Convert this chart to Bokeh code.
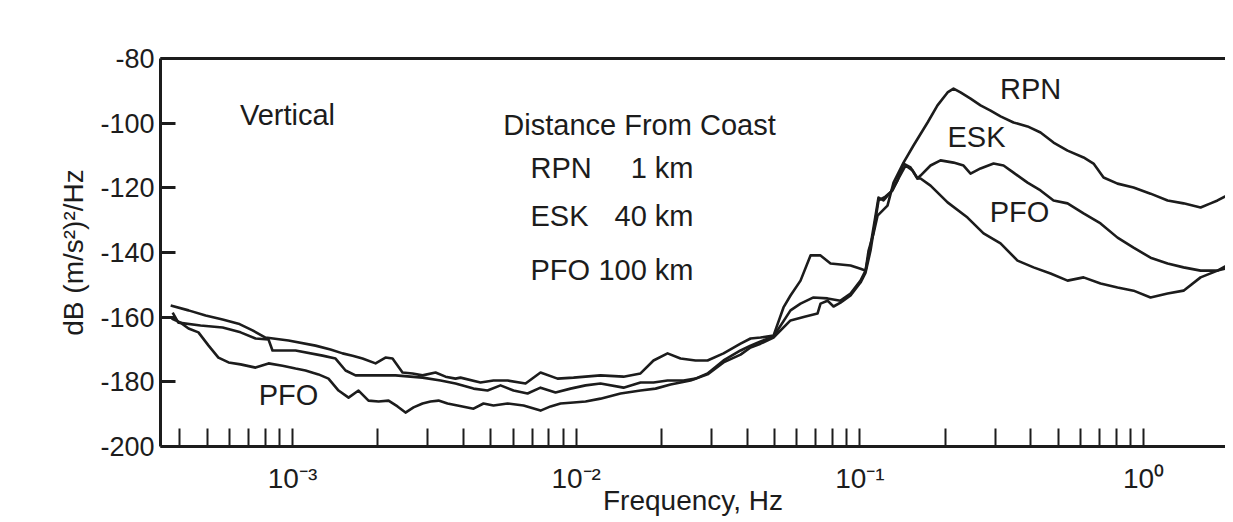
from bokeh.plotting import figure
from bokeh.models import FixedTicker, LogAxis, Label, Range1d
from bokeh.embed import file_html
from bokeh.resources import INLINE

# ---- data ----
RPN_FREQ = [3.72e-4, 4.30e-4, 4.94e-4, 5.67e-4, 6.45e-4, 7.23e-4, 8.03e-4, 9.68e-4, 1.205e-3, 1.361e-3,
            1.501e-3, 1.628e-3, 1.765e-3, 1.962e-3, 2.127e-3, 2.252e-3, 2.442e-3, 2.649e-3, 2.873e-3, 3.192e-3,
            3.462e-3, 3.754e-3, 3.909e-3, 4.599e-3, 5.110e-3, 5.727e-3, 6.628e-3, 7.486e-3, 8.594e-3, 9.784e-3,
            1.218e-2, 1.468e-2, 1.685e-2, 1.873e-2, 2.099e-2, 2.332e-2, 2.634e-2, 2.904e-2, 3.306e-2, 3.796e-2,
            4.116e-2, 4.464e-2, 4.960e-2, 5.379e-2, 5.694e-2, 6.176e-2, 6.698e-2, 7.264e-2, 7.879e-2, 9.268e-2,
            1.005e-1, 1.047e-1, 1.073e-1, 1.117e-1, 1.154e-1, 1.251e-1, 1.314e-1, 1.425e-1, 1.545e-1, 1.732e-1,
            1.877e-1, 2.037e-1, 2.138e-1, 2.263e-1, 2.455e-1, 2.662e-1, 2.888e-1, 3.131e-1, 3.479e-1, 3.898e-1,
            4.332e-1, 4.814e-1, 5.395e-1, 6.142e-1, 6.661e-1, 7.225e-1, 8.093e-1, 9.215e-1, 1.058, 1.215,
            1.383, 1.588, 1.722, 1.822, 2.025]
RPN_DB = [-156.4, -157.9, -159.5, -160.7, -162.0, -164.1, -166.3, -167.2, -168.8, -170.0,
          -171.2, -171.9, -172.8, -174.3, -172.5, -172.8, -177.1, -177.4, -178.0, -177.1,
          -178.4, -179.0, -178.7, -180.2, -179.6, -179.6, -180.5, -177.1, -179.0, -178.7,
          -178.0, -178.4, -177.4, -173.4, -171.2, -172.8, -173.4, -173.4, -171.2, -168.2,
          -166.6, -166.3, -165.7, -157.0, -153.3, -148.7, -140.9, -140.9, -143.4, -144.0,
          -145.0, -145.6, -139.4, -134.1, -128.6, -125.5, -118.4, -112.2, -106.9, -99.8,
          -94.5, -90.5, -89.3, -90.5, -92.4, -94.5, -96.1, -97.9, -99.8, -101.0,
          -102.9, -106.0, -108.5, -110.6, -112.5, -116.8, -118.7, -119.9, -121.8, -123.9,
          -124.8, -126.1, -124.8, -123.9, -121.8]

ESK_FREQ = [3.78e-4, 3.96e-4, 4.74e-4, 5.67e-4, 6.56e-4, 7.41e-4, 8.23e-4, 8.50e-4, 1.025e-3, 1.276e-3,
            1.418e-3, 1.538e-3, 1.668e-3, 1.962e-3, 2.307e-3, 2.873e-3, 3.325e-3, 3.754e-3, 4.345e-3, 4.868e-3,
            5.410e-3, 6.012e-3, 6.737e-3, 7.486e-3, 8.456e-3, 9.550e-3, 1.079e-2, 1.218e-2, 1.468e-2, 1.685e-2,
            1.873e-2, 2.099e-2, 2.389e-2, 2.634e-2, 2.904e-2, 3.306e-2, 3.796e-2, 4.116e-2, 4.464e-2, 4.960e-2,
            5.694e-2, 6.176e-2, 6.863e-2, 7.689e-2, 8.544e-2, 9.268e-2, 1.005e-1, 1.047e-1, 1.090e-1, 1.135e-1,
            1.163e-1, 1.211e-1, 1.282e-1, 1.357e-1, 1.425e-1, 1.508e-1, 1.596e-1, 1.636e-1, 1.774e-1, 1.924e-1,
            2.138e-1, 2.319e-1, 2.455e-1, 2.662e-1, 2.959e-1, 3.209e-1, 3.479e-1, 3.898e-1, 4.332e-1, 4.814e-1,
            5.395e-1, 6.142e-1, 7.051e-1, 8.093e-1, 9.215e-1, 1.058, 1.215, 1.383, 1.588, 1.822, 2.025]
ESK_DB = [-158.6, -161.7, -162.6, -163.2, -164.7, -166.6, -166.9, -170.3, -170.3, -171.9,
          -172.8, -176.5, -178.0, -178.0, -178.0, -178.7, -179.6, -180.5, -182.1, -182.7,
          -181.1, -182.7, -183.6, -181.8, -183.3, -182.1, -181.1, -180.5, -181.8, -180.2,
          -180.2, -179.6, -179.6, -179.0, -177.4, -173.4, -170.3, -168.8, -167.5, -166.0,
          -157.9, -155.8, -153.9, -154.2, -154.9, -152.7, -148.7, -145.6, -137.8, -128.6,
          -123.0, -123.9, -121.4, -117.7, -112.5, -113.7, -117.1, -116.2, -113.1, -111.5,
          -112.2, -113.1, -115.6, -114.0, -112.5, -113.1, -115.3, -118.4, -120.8, -123.9,
          -124.8, -127.9, -131.0, -135.4, -138.5, -141.6, -143.4, -144.6, -145.6, -145.6, -143.4]

PFO_FREQ = [3.75e-4, 4.03e-4, 4.30e-4, 4.66e-4, 5.06e-4, 5.48e-4, 5.95e-4, 6.56e-4, 7.41e-4, 8.23e-4,
            9.22e-4, 1.025e-3, 1.111e-3, 1.235e-3, 1.339e-3, 1.453e-3, 1.576e-3, 1.709e-3, 1.853e-3, 2.011e-3,
            2.180e-3, 2.345e-3, 2.502e-3, 2.670e-3, 2.873e-3, 3.065e-3, 3.271e-3, 3.519e-3, 3.815e-3, 4.345e-3,
            4.712e-3, 5.110e-3, 5.727e-3, 6.521e-3, 7.486e-3, 8.121e-3, 8.806e-3, 9.784e-3, 1.079e-2, 1.218e-2,
            1.433e-2, 1.685e-2, 1.904e-2, 2.151e-2, 2.529e-2, 2.904e-2, 3.306e-2, 3.796e-2, 4.116e-2, 4.464e-2,
            4.960e-2, 5.694e-2, 6.431e-2, 7.089e-2, 7.264e-2, 7.689e-2, 8.072e-2, 8.544e-2, 9.268e-2, 1.005e-1,
            1.047e-1, 1.090e-1, 1.126e-1, 1.163e-1, 1.231e-1, 1.303e-1, 1.368e-1, 1.448e-1, 1.533e-1, 1.596e-1,
            1.636e-1, 1.774e-1, 2.037e-1, 2.395e-1, 2.728e-1, 3.131e-1, 3.594e-1, 4.093e-1, 4.699e-1, 5.395e-1,
            6.142e-1, 7.051e-1, 8.093e-1, 9.215e-1, 1.058, 1.215, 1.383, 1.588, 1.822, 2.025]
PFO_DB = [-160.4, -161.7, -163.5, -164.7, -168.8, -172.5, -174.0, -174.6, -175.6, -174.3,
          -175.0, -175.9, -176.5, -177.7, -179.0, -182.7, -184.9, -182.7, -185.8, -186.1,
          -185.8, -187.6, -189.5, -187.9, -186.7, -186.1, -185.8, -186.7, -187.3, -188.3,
          -186.7, -187.3, -186.7, -187.3, -188.9, -187.6, -186.7, -186.4, -186.1, -185.2,
          -183.6, -182.7, -182.1, -180.8, -179.6, -177.7, -174.0, -171.6, -169.4, -168.2,
          -166.3, -161.0, -159.8, -158.9, -155.8, -154.9, -156.7, -155.5, -153.3, -149.3,
          -146.2, -139.4, -131.7, -123.9, -122.7, -120.8, -117.1, -113.1, -114.6, -117.1,
          -117.1, -119.3, -124.5, -129.2, -134.1, -137.2, -142.5, -144.6, -146.5, -148.7,
          -147.7, -149.6, -150.8, -151.8, -153.9, -152.7, -151.8, -147.7, -145.6, -144.6]

X_TICKS = [4e-4, 5e-4, 6e-4, 7e-4, 8e-4, 9e-4,
           1e-3, 2e-3, 3e-3, 4e-3, 5e-3, 6e-3, 7e-3, 8e-3, 9e-3,
           1e-2, 2e-2, 3e-2, 4e-2, 5e-2, 6e-2, 7e-2, 8e-2, 9e-2,
           1e-1, 2e-1, 3e-1, 4e-1, 5e-1, 6e-1, 7e-1, 8e-1, 9e-1,
           1.0, 2.0]
X_DECADES = [1e-3, 1e-2, 1e-1, 1.0]
X_DECADE_LABELS = ["10\u207b\u00b3", "10\u207b\u00b2", "10\u207b\u00b9", "10\u2070"]
Y_TICKS = [-200, -180, -160, -140, -120, -100, -80]
Y_TICK_LABELS = ["-200", "-180", "-160", "-140", "-120", "-100", "-80"]

INK = "#1c1c1c"
FONT = "Liberation Sans"

p = figure(width=1225, height=518, x_axis_type="log",
           x_range=Range1d(3.425e-4, 1.944), y_range=Range1d(-200, -80),
           output_backend="svg", toolbar_location=None,
           min_border_left=160, min_border_right=0, min_border_top=58, min_border_bottom=72)
p.grid.visible = False
p.outline_line_color = None
p.background_fill_color = "white"
p.border_fill_color = "white"

for fx, fy in ((RPN_FREQ, RPN_DB), (ESK_FREQ, ESK_DB), (PFO_FREQ, PFO_DB)):
    p.line(fx, fy, line_color=INK, line_width=2.6, line_join="round")

# x axis
overrides = {t: "" for t in X_TICKS}
for t, lab in zip(X_DECADES, X_DECADE_LABELS):
    overrides[t] = lab
xa = p.xaxis[0]
xa.ticker = FixedTicker(ticks=X_TICKS, minor_ticks=[])
xa.major_label_overrides = overrides
xa.major_tick_in = 18
xa.major_tick_out = 0
xa.major_tick_line_width = 2
xa.major_tick_line_color = INK
xa.minor_tick_line_color = None
xa.axis_line_width = 3
xa.axis_line_color = INK
xa.major_label_text_font = FONT
xa.major_label_text_font_size = "28px"
xa.major_label_text_color = INK
xa.major_label_standoff = 16
xa.axis_label = "Frequency, Hz"
xa.axis_label_text_font = FONT
xa.axis_label_text_font_size = "28px"
xa.axis_label_text_font_style = "normal"
xa.axis_label_text_color = INK
xa.axis_label_standoff = -12

# y axis
ya = p.yaxis[0]
ya.ticker = FixedTicker(ticks=Y_TICKS, minor_ticks=[])
ya.major_label_overrides = dict(zip(Y_TICKS, Y_TICK_LABELS))
ya.major_tick_in = 15
ya.major_tick_out = 0
ya.major_tick_line_width = 3
ya.major_tick_line_color = INK
ya.minor_tick_line_color = None
ya.axis_line_width = 3
ya.axis_line_color = INK
ya.major_label_text_font = FONT
ya.major_label_text_font_size = "27px"
ya.major_label_text_color = INK
ya.major_label_standoff = 6
ya.axis_label = "dB (m/s\u00b2)\u00b2/Hz"
ya.axis_label_text_font = FONT
ya.axis_label_text_font_size = "28px"
ya.axis_label_text_font_style = "normal"
ya.axis_label_text_color = INK
ya.axis_label_standoff = 8

# top frame line
top = LogAxis(ticker=FixedTicker(ticks=[], minor_ticks=[]), axis_line_width=3, axis_line_color=INK,
              major_tick_line_color=None, minor_tick_line_color=None,
              major_label_text_font_size="0px")
p.add_layout(top, "above")

def lab(x, y, text, align="center"):
    p.add_layout(Label(x=x, y=y, text=text, text_font=FONT, text_font_size="29px",
                       text_color=INK, text_align=align, text_baseline="middle"))

lab(9.60e-4, -97.5, "Vertical")
lab(1.672e-2, -100.5, "Distance From Coast")
lab(6.90e-3, -113.9, "RPN", "left")
lab(2.591e-2, -113.9, "1 km", "right")
lab(6.90e-3, -128.6, "ESK", "left")
lab(2.591e-2, -128.6, "40 km", "right")
lab(6.90e-3, -145.3, "PFO", "left")
lab(2.591e-2, -145.3, "100 km", "right")
lab(0.3995, -89.3, "RPN")
lab(0.2576, -104.4, "ESK")
lab(0.3652, -127.6, "PFO")
lab(9.68e-4, -184.2, "PFO")

open("out.html", "w").write(file_html(p, INLINE))
